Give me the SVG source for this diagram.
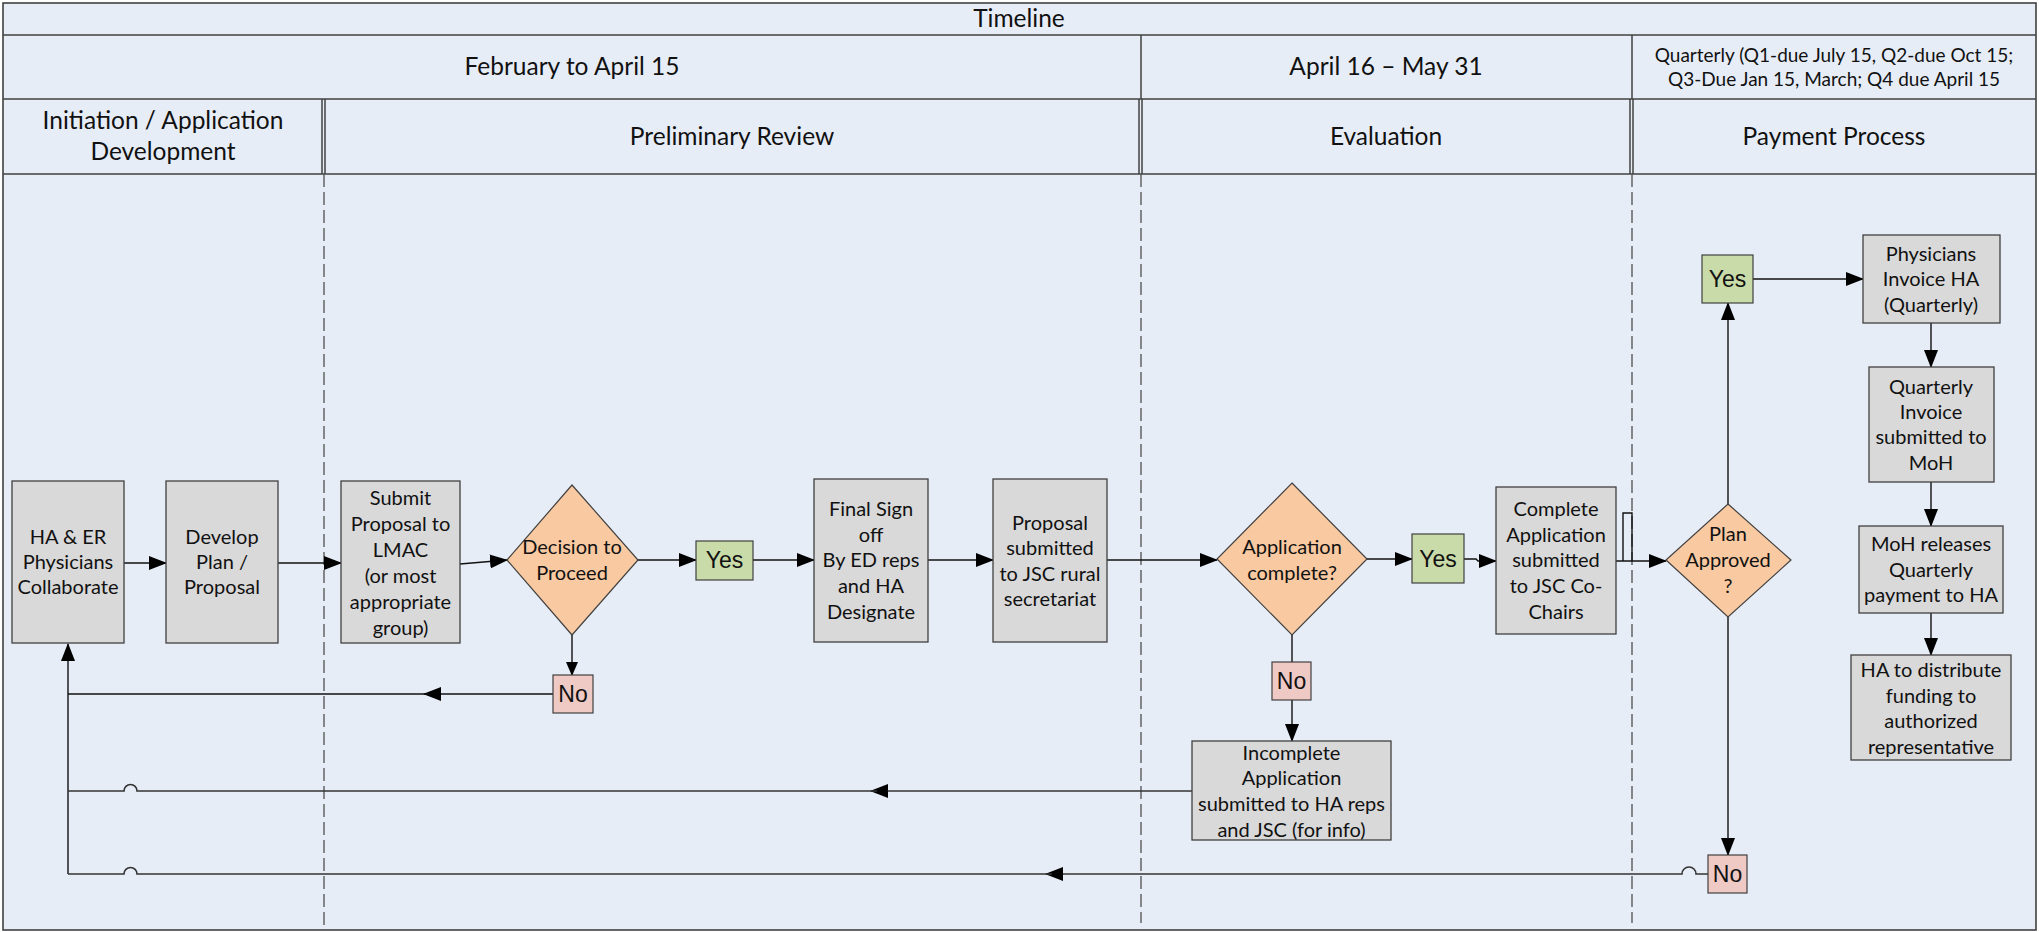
<svg xmlns="http://www.w3.org/2000/svg" width="2039" height="932" viewBox="0 0 2039 932">
<style>
.bg{fill:#E7EDF7;stroke:#404040;stroke-width:1.6}
.hd{fill:none;stroke:#404040;stroke-width:1.5}
.lane{stroke:#5a5a5a;stroke-width:1.4;stroke-dasharray:13 5;fill:none}
.box{fill:#D9D9D9;stroke:#404040;stroke-width:1.3}
.dia{fill:#F9C9A1;stroke:#404040;stroke-width:1.2}
.yes{fill:#C9DBA8;stroke:#404040;stroke-width:1.2}
.no{fill:#EFCAC5;stroke:#404040;stroke-width:1.2}
.ht{font-family:Lato,"Liberation Sans",sans-serif;font-size:24.5px;fill:#111;text-anchor:middle}
.hs{font-family:Lato,"Liberation Sans",sans-serif;font-size:19px;fill:#111;text-anchor:middle}
.t{font-family:Lato,"Liberation Sans",sans-serif;font-size:20px;fill:#111;text-anchor:middle}
.yn{font-family:"Liberation Sans",Arial,sans-serif;font-size:23px;fill:#111;text-anchor:middle}
.c{fill:none;stroke:#111;stroke-width:1.4}
.c2{fill:none;stroke:#333;stroke-width:1.6}
</style>
<defs>
<marker id="ah" markerWidth="18" markerHeight="14" refX="17" refY="7" orient="auto" markerUnits="userSpaceOnUse">
<path d="M0,0 L18,7 L0,14 Z" fill="#000"/>
</marker>
<marker id="as" markerWidth="14" markerHeight="12" refX="13" refY="6" orient="auto" markerUnits="userSpaceOnUse">
<path d="M0,0 L14,6 L0,12 Z" fill="#000"/>
</marker>
</defs>

<g id="frame">
<rect class="bg" x="3" y="3" width="2033" height="927"/>
<line class="hd" x1="3" y1="35" x2="2036" y2="35"/>
<line class="hd" x1="3" y1="99" x2="2036" y2="99"/>
<line class="hd" x1="3" y1="174" x2="2036" y2="174"/>
<line class="hd" x1="1141" y1="35" x2="1141" y2="99"/>
<line class="hd" x1="1632" y1="35" x2="1632" y2="99"/>
<line class="hd" x1="322" y1="99" x2="322" y2="174"/>
<line class="hd" x1="325" y1="99" x2="325" y2="174"/>
<line class="hd" x1="1139" y1="99" x2="1139" y2="174"/>
<line class="hd" x1="1142" y1="99" x2="1142" y2="174"/>
<line class="hd" x1="1630" y1="99" x2="1630" y2="174"/>
<line class="hd" x1="1633" y1="99" x2="1633" y2="174"/>
<text class="ht" x="1019" y="27">Timeline</text>
<text class="ht" x="572" y="75">February to April 15</text>
<text class="ht" x="1386" y="75">April 16 – May 31</text>
<text class="hs" x="1834" y="62">Quarterly (Q1-due July 15, Q2-due Oct 15;</text>
<text class="hs" x="1834" y="86">Q3-Due Jan 15, March; Q4 due April 15</text>
<text class="ht" x="163" y="129">Initiation / Application</text>
<text class="ht" x="163" y="160">Development</text>
<text class="ht" x="732" y="145">Preliminary Review</text>
<text class="ht" x="1386" y="145">Evaluation</text>
<text class="ht" x="1834" y="145">Payment Process</text>
<line class="lane" x1="324" y1="174" x2="324" y2="930"/>
<line class="lane" x1="1141" y1="174" x2="1141" y2="923"/>
<line class="lane" x1="1632" y1="174" x2="1632" y2="923"/>
</g>

<g id="connectors">
<path class="c" d="M124,563 H166" marker-end="url(#ah)"/>
<path class="c" d="M278,563 H341" marker-end="url(#ah)"/>
<path class="c" d="M460,564 L507,560" marker-end="url(#ah)"/>
<path class="c" d="M638,560 H696" marker-end="url(#ah)"/>
<path class="c" d="M753,560 H814" marker-end="url(#ah)"/>
<path class="c" d="M928,560 H993" marker-end="url(#ah)"/>
<path class="c" d="M1107,560 H1217" marker-end="url(#ah)"/>
<path class="c" d="M1367,559 H1412" marker-end="url(#ah)"/>
<path class="c" d="M1464,559 H1476 L1478,561 H1496" marker-end="url(#ah)"/>
<path class="c" d="M1616,561 H1666" marker-end="url(#ah)"/>
<path class="c" d="M1623,561 V513 H1632 V561"/>
<path class="c" d="M1728,504 V303" marker-end="url(#ah)"/>
<path class="c" d="M1753,279 H1863" marker-end="url(#ah)"/>
<path class="c" d="M1931,323 V367" marker-end="url(#ah)"/>
<path class="c" d="M1931,482 V526" marker-end="url(#ah)"/>
<path class="c" d="M1931,613 V655" marker-end="url(#ah)"/>
<path class="c" d="M572,635 V675" marker-end="url(#as)"/>
<path class="c" d="M553,694 H424" marker-end="url(#ah)"/>
<path class="c" d="M430,694 H68"/>
<path class="c" d="M68,874 V644" marker-end="url(#ah)"/>
<path class="c" d="M1292,635 V662"/>
<path class="c" d="M1292,700 V741" marker-end="url(#ah)"/>
<path class="c2" d="M1192,791 H871" marker-end="url(#ah)"/>
<path class="c2" d="M877,791 H137 A6.5,6.5 0 0 0 124,791 H68"/>
<path class="c" d="M1728,617 V855" marker-end="url(#ah)"/>
<path class="c2" d="M1708,874 H1696 A7,7 0 0 0 1682,874 H1046" marker-end="url(#ah)"/>
<path class="c2" d="M1052,874 H137 A6.5,6.5 0 0 0 124,874 H68"/>
</g>

<g id="n1"><rect class="box" x="12" y="481" width="112" height="162"/>
<text class="t" x="68" y="544">HA &amp; ER</text><text class="t" x="68" y="569">Physicians</text><text class="t" x="68" y="594">Collaborate</text></g>
<g id="n2"><rect class="box" x="166" y="481" width="112" height="162"/>
<text class="t" x="222" y="544">Develop</text><text class="t" x="222" y="569">Plan /</text><text class="t" x="222" y="594">Proposal</text></g>
<g id="n3"><rect class="box" x="341" y="481" width="119" height="162"/>
<text class="t" x="400.5" y="505">Submit</text><text class="t" x="400.5" y="531">Proposal to</text><text class="t" x="400.5" y="557">LMAC</text><text class="t" x="400.5" y="583">(or most</text><text class="t" x="400.5" y="609">appropriate</text><text class="t" x="400.5" y="635">group)</text></g>
<g id="n4"><polygon class="dia" points="572,485 638,560 572,635 507,560"/>
<text class="t" x="572" y="554">Decision to</text><text class="t" x="572" y="580">Proceed</text></g>
<g id="n5"><rect class="yes" x="696" y="541" width="57" height="39"/><text class="yn" x="724.5" y="568">Yes</text></g>
<g id="n6"><rect class="box" x="814" y="479" width="114" height="163"/>
<text class="t" x="871" y="516">Final Sign</text><text class="t" x="871" y="542">off</text><text class="t" x="871" y="567">By ED reps</text><text class="t" x="871" y="593">and HA</text><text class="t" x="871" y="619">Designate</text></g>
<g id="n7"><rect class="box" x="993" y="479" width="114" height="163"/>
<text class="t" x="1050" y="530">Proposal</text><text class="t" x="1050" y="555">submitted</text><text class="t" x="1050" y="581">to JSC rural</text><text class="t" x="1050" y="606">secretariat</text></g>
<g id="n8"><polygon class="dia" points="1292,483 1367,559 1292,635 1217,559"/>
<text class="t" x="1292" y="554">Application</text><text class="t" x="1292" y="580">complete?</text></g>
<g id="n9"><rect class="yes" x="1412" y="534" width="52" height="49"/><text class="yn" x="1438" y="567">Yes</text></g>
<g id="n10"><rect class="box" x="1496" y="487" width="120" height="147"/>
<text class="t" x="1556" y="516">Complete</text><text class="t" x="1556" y="542">Application</text><text class="t" x="1556" y="567">submitted</text><text class="t" x="1556" y="593">to JSC Co-</text><text class="t" x="1556" y="619">Chairs</text></g>
<g id="n11"><polygon class="dia" points="1728,504 1791,560 1728,617 1666,560"/>
<text class="t" x="1728" y="541">Plan</text><text class="t" x="1728" y="567">Approved</text><text class="t" x="1728" y="593">?</text></g>
<g id="n12"><rect class="yes" x="1702" y="255" width="51" height="48"/><text class="yn" x="1727.5" y="287">Yes</text></g>
<g id="n13"><rect class="box" x="1863" y="235" width="137" height="88"/>
<text class="t" x="1931" y="261">Physicians</text><text class="t" x="1931" y="286">Invoice HA</text><text class="t" x="1931" y="312">(Quarterly)</text></g>
<g id="n14"><rect class="box" x="1869" y="367" width="125" height="115"/>
<text class="t" x="1931" y="394">Quarterly</text><text class="t" x="1931" y="419">Invoice</text><text class="t" x="1931" y="444">submitted to</text><text class="t" x="1931" y="470">MoH</text></g>
<g id="n15"><rect class="box" x="1859" y="526" width="144" height="87"/>
<text class="t" x="1931" y="551">MoH releases</text><text class="t" x="1931" y="577">Quarterly</text><text class="t" x="1931" y="602">payment to HA</text></g>
<g id="n16"><rect class="box" x="1851" y="655" width="160" height="105"/>
<text class="t" x="1931" y="677">HA to distribute</text><text class="t" x="1931" y="703">funding to</text><text class="t" x="1931" y="728">authorized</text><text class="t" x="1931" y="754">representative</text></g>
<g id="n17"><rect class="no" x="553" y="675" width="40" height="38"/><text class="yn" x="573" y="702">No</text></g>
<g id="n18"><rect class="no" x="1272" y="662" width="39" height="38"/><text class="yn" x="1291.5" y="689">No</text></g>
<g id="n19"><rect class="box" x="1192" y="741" width="199" height="99"/>
<text class="t" x="1291.5" y="760">Incomplete</text><text class="t" x="1291.5" y="785">Application</text><text class="t" x="1291.5" y="811">submitted to HA reps</text><text class="t" x="1291.5" y="837">and JSC (for info)</text></g>
<g id="n20"><rect class="no" x="1708" y="855" width="39" height="38"/><text class="yn" x="1727.5" y="882">No</text></g>
</svg>
